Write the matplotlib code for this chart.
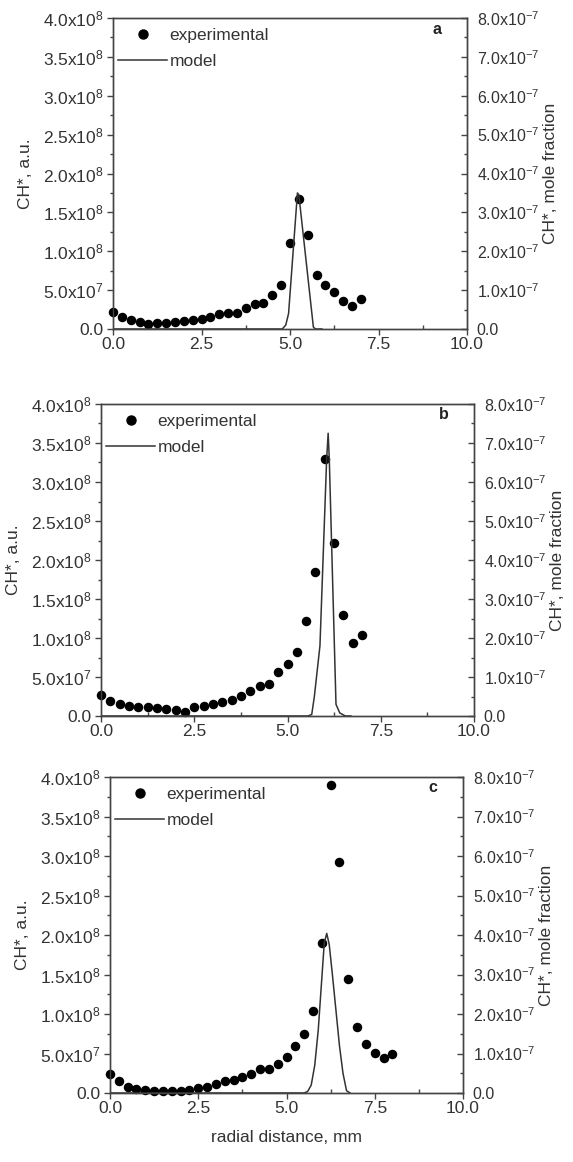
import matplotlib
matplotlib.use("Agg")
import matplotlib.pyplot as plt
from matplotlib.ticker import MultipleLocator, FuncFormatter
from matplotlib.lines import Line2D

plt.rcParams['font.family'] = ['Liberation Sans', 'DejaVu Sans']
plt.rcParams['mathtext.fontset'] = 'custom'
plt.rcParams['mathtext.rm'] = 'Liberation Sans'
plt.rcParams['mathtext.it'] = 'Liberation Sans:italic'
plt.rcParams['mathtext.bf'] = 'Liberation Sans:bold'

# ---------------- data ----------------
x_exp_ab = [0.0, 0.25, 0.5, 0.75, 1.0, 1.25, 1.5, 1.75, 2.0, 2.25, 2.5, 2.75,
            3.0, 3.25, 3.5, 3.75, 4.0, 4.25, 4.5, 4.75, 5.0, 5.25, 5.5, 5.75,
            6.0, 6.25, 6.5, 6.75, 7.0]
x_exp_c = [0.0, 0.25, 0.5, 0.75, 1.0, 1.25, 1.5, 1.75, 2.0, 2.25, 2.5, 2.75,
           3.0, 3.25, 3.5, 3.75, 4.0, 4.25, 4.5, 4.75, 5.0, 5.25, 5.5, 5.75,
           6.0, 6.25, 6.5, 6.75, 7.0, 7.25, 7.5, 7.75, 8.0]

# experimental CH*, units of 1e8 a.u.
exp_a = [0.22, 0.15, 0.11, 0.09, 0.07, 0.08, 0.08, 0.09, 0.10, 0.11, 0.13, 0.16,
         0.19, 0.20, 0.21, 0.27, 0.32, 0.33, 0.44, 0.57, 1.10, 1.67, 1.21, 0.70,
         0.57, 0.47, 0.36, 0.30, 0.39]
exp_b = [0.27, 0.19, 0.15, 0.13, 0.11, 0.11, 0.10, 0.09, 0.08, 0.05, 0.11, 0.13,
         0.15, 0.18, 0.21, 0.26, 0.32, 0.38, 0.41, 0.57, 0.67, 0.82, 1.22, 1.84,
         3.29, 2.22, 1.29, 0.94, 1.04]
exp_c = [0.24, 0.15, 0.08, 0.05, 0.04, 0.03, 0.03, 0.03, 0.03, 0.04, 0.06, 0.08,
         0.11, 0.15, 0.17, 0.20, 0.24, 0.30, 0.31, 0.37, 0.46, 0.60, 0.75, 1.04,
         1.90, 3.90, 2.93, 1.44, 0.83, 0.62, 0.51, 0.44, 0.50]

# model CH* mole fraction, units of 1e-7
mod_x_a = [0.0, 4.6, 4.78, 4.88, 4.96, 5.21, 5.25, 5.66, 5.72, 5.9]
mod_y_a = [0.0, 0.0, 0.0, 0.1, 0.4, 3.5, 3.45, 0.05, 0.0, 0.0]
mod_x_b = [0.0, 5.4, 5.55, 5.65, 5.72, 5.87, 6.05, 6.09, 6.12, 6.3, 6.4, 6.55, 6.7]
mod_y_b = [0.0, 0.0, 0.0, 0.04, 0.5, 1.8, 6.6, 7.25, 6.6, 0.3, 0.08, 0.0, 0.0]
mod_x_c = [0.0, 5.5, 5.6, 5.7, 5.8, 5.9, 6.0, 6.07, 6.14, 6.21, 6.3, 6.4, 6.5,
           6.6, 6.7, 6.8]
mod_y_c = [0.0, 0.0, 0.04, 0.2, 0.7, 1.6, 2.9, 3.8, 4.04, 3.76, 3.0, 2.1, 1.2,
           0.5, 0.06, 0.0]

panel_labels = ['a', 'b', 'c']
left_label = 'CH*, a.u.'
right_label = 'CH*, mole fraction'
x_label = 'radial distance, mm'

# axes rectangles (left, bottom, width, height) in figure fraction
W, H = 573, 1162
rects = [
    (113 / W, 1 - 329 / H, 354 / W, 311 / H),
    (101 / W, 1 - 716 / H, 373 / W, 312 / H),
    (110 / W, 1 - 1093 / H, 353 / W, 316 / H),
]

FS = 12.5
FS_R = 11.5
TXT = '#333333'
AXC = '#444444'


def fmt_left(v, pos):
    if abs(v) < 1e-3:
        return '0.0'
    e_tot = 8
    m = v
    while abs(m) < 1:
        m *= 10
        e_tot -= 1
    return r'%.1fx10$^{%d}$' % (m, e_tot)


def fmt_right(v, pos):
    if abs(v) < 1e-6:
        return '0.0'
    return r'%.1fx10$^{-7}$' % v


fig = plt.figure(figsize=(W / 100, H / 100), dpi=100)

datasets = [
    (x_exp_ab, exp_a, mod_x_a, mod_y_a),
    (x_exp_ab, exp_b, mod_x_b, mod_y_b),
    (x_exp_c, exp_c, mod_x_c, mod_y_c),
]

for i, (rect, (xe, ye, xm, ym)) in enumerate(zip(rects, datasets)):
    ax = fig.add_axes(rect)
    ax2 = ax.twinx()
    ax.scatter(xe, ye, s=34, color='black', zorder=3, clip_on=False)
    ax2.plot(xm, ym, color='#333333', lw=1.1)

    ax.set_xlim(0, 10)
    ax.set_ylim(0, 4.0)
    ax2.set_ylim(0, 8.0)

    ax.xaxis.set_major_locator(MultipleLocator(2.5))
    ax.xaxis.set_minor_locator(MultipleLocator(1.25))
    ax.xaxis.set_major_formatter(FuncFormatter(lambda v, p: '%.1f' % v))
    ax.yaxis.set_major_locator(MultipleLocator(0.5))
    ax.yaxis.set_minor_locator(MultipleLocator(0.25))
    ax.yaxis.set_major_formatter(FuncFormatter(fmt_left))
    ax2.yaxis.set_major_locator(MultipleLocator(1.0))
    ax2.yaxis.set_minor_locator(MultipleLocator(0.5))
    ax2.yaxis.set_major_formatter(FuncFormatter(fmt_right))

    for a in (ax, ax2):
        for s in a.spines.values():
            s.set_color(AXC)
            s.set_linewidth(1.0)
    ax.tick_params(axis='x', which='major', direction='out', length=4,
                   width=1, colors=AXC, labelcolor=TXT, labelsize=FS, pad=2)
    ax.tick_params(axis='x', which='minor', direction='in', length=3,
                   width=1, colors=AXC)
    ax.tick_params(axis='y', which='major', direction='out', length=4,
                   width=1, colors=AXC, labelcolor=TXT, labelsize=FS, pad=3)
    ax.tick_params(axis='y', which='minor', direction='out', length=2,
                   width=1, colors=AXC)
    ax2.tick_params(axis='y', which='major', direction='in', length=4,
                    width=1, colors=AXC, labelcolor=TXT, labelsize=FS_R, pad=7)
    ax2.tick_params(axis='y', which='minor', direction='in', length=2,
                    width=1, colors=AXC)

    ax.set_ylabel(left_label, fontsize=FS, color=TXT, labelpad=7)
    ax2.set_ylabel(right_label, fontsize=FS, color=TXT, labelpad=3)
    if i == 2:
        ax.set_xlabel(x_label, fontsize=FS, color=TXT, labelpad=10)

    handles = [
        Line2D([], [], marker='o', ls='none', color='black', markersize=6.5),
        Line2D([], [], color='#333333', lw=1.1),
    ]
    ax2.legend(handles, ['experimental', 'model'], loc='upper left',
               bbox_to_anchor=(0.0, 0.985), frameon=False, fontsize=FS,
               handlelength=2.8, handletextpad=0.15, labelspacing=0.6,
               borderaxespad=0.1, borderpad=0.2, labelcolor=TXT)
    ax2.annotate(panel_labels[i], xy=(1, 1), xycoords='axes fraction',
                 xytext=(-30, -11), textcoords='offset pixels',
                 ha='center', va='center', fontsize=FS - 1, fontweight='bold',
                 color='#222222')

fig.savefig('out.png', dpi=100, facecolor='white')
